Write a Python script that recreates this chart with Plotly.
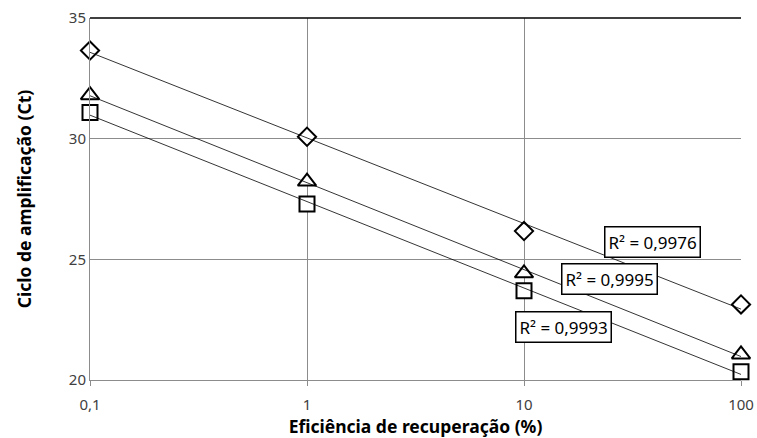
import numpy as np
import plotly.graph_objects as go

eficiencia = [0.1, 1, 10, 100]
ct_diamante = [33.65, 30.08, 26.17, 23.13]
ct_triangulo = [31.80, 28.22, 24.42, 21.06]
ct_quadrado = [31.08, 27.29, 23.70, 20.34]
r2_textos = ["R² = 0,9976", "R² = 0,9995", "R² = 0,9993"]
y_ticks = [20, 25, 30, 35]
x_ticks = [0.1, 1, 10, 100]
x_tick_labels = ["0,1", "1", "10", "100"]

fig = go.Figure()
series = [
    (ct_diamante, "diamond", 14),
    (ct_triangulo, "triangle-up", 16),
    (ct_quadrado, "square", 15),
]
lx = np.log10(eficiencia)
xs = np.array([min(eficiencia), max(eficiencia)])
for vals, sym, sz in series:
    fig.add_trace(go.Scatter(
        x=eficiencia, y=vals, mode="markers",
        marker=dict(symbol=sym, size=sz, color="white",
                    line=dict(color="black", width=2)),
        cliponaxis=False, showlegend=False, hoverinfo="x+y"))
for vals, sym, sz in series:
    m, b = np.polyfit(lx, vals, 1)
    fig.add_trace(go.Scatter(
        x=xs, y=m * np.log10(xs) + b, mode="lines",
        line=dict(color="black", width=0.8),
        cliponaxis=False, showlegend=False, hoverinfo="skip"))

ann_pos = [(1.59, 25.72), (1.392, 24.20), (1.182, 22.19)]
for (ax, ay), t in zip(ann_pos, r2_textos):
    fig.add_annotation(x=ax, y=ay, text=t, showarrow=False,
                       font=dict(family="Noto Sans", size=17, color="black"),
                       bordercolor="black", borderwidth=1.5, borderpad=3,
                       bgcolor="white")

fig.add_shape(type="line", xref="paper", yref="paper", x0=0, x1=1, y0=1, y1=1,
              line=dict(color="black", width=1.5))

fig.update_layout(
    width=757, height=438,
    margin=dict(l=90, r=16, t=18, b=58),
    paper_bgcolor="white", plot_bgcolor="white",
    font=dict(family="Noto Sans", color="#404040"),
    xaxis=dict(type="log", range=[-1, 2], tickvals=x_ticks, ticktext=x_tick_labels,
               showgrid=True, gridcolor="#8c8c8c", gridwidth=1,
               showline=True, linecolor="#8c8c8c", linewidth=1,
               ticks="outside", ticklen=5, tickcolor="#8c8c8c",
               ticklabelstandoff=6,
               tickfont=dict(size=15, color="#404040"), zeroline=False,
               mirror=False, automargin=False,
               title=dict(text="<b>Eficiência de recuperação (%)</b>",
                          font=dict(size=17.5, color="black"), standoff=2)),
    yaxis=dict(range=[20, 35], tickvals=y_ticks,
               showgrid=True, gridcolor="#8c8c8c", gridwidth=1,
               showline=True, linecolor="#8c8c8c", linewidth=1,
               ticks="", tickfont=dict(size=15, color="#404040"), zeroline=False,
               automargin=False,
               title=dict(text="<b>Ciclo de amplificação (Ct)</b>",
                          font=dict(size=17.5, color="black"), standoff=32)),
)
fig.write_html("out.html", config={"displayModeBar": False},
               post_script="document.body.style.margin='0px';")
